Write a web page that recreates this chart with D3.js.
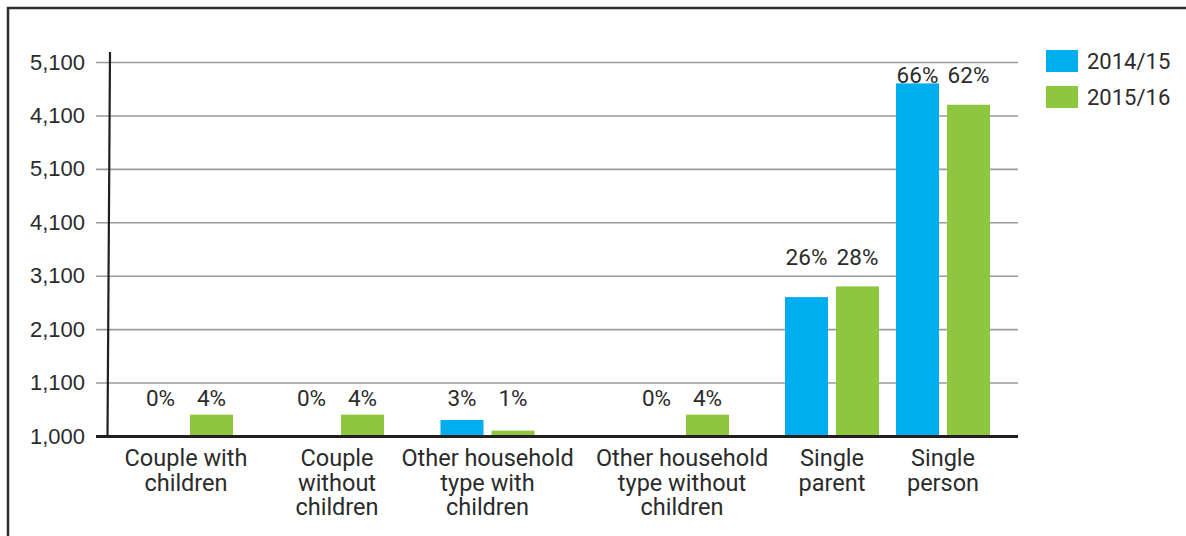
<!DOCTYPE html>
<html>
<head>
<meta charset="utf-8">
<script src="https://cdn.jsdelivr.net/npm/d3@7"></script>
<style>
  html, body { margin: 0; padding: 0; background: #fff; }
  svg { display: block; font-family: Roboto, "Open Sans", sans-serif; }
</style>
</head>
<body>
<svg id="chart" width="1186" height="536"></svg>
<script>
// Household types (x axis) and their wrapped label lines
const categories = [
  "Couple with children",
  "Couple without children",
  "Other household type with children",
  "Other household type without children",
  "Single parent",
  "Single person"
];
const categoryLines = [
  ["Couple with", "children"],
  ["Couple", "without", "children"],
  ["Other household", "type with", "children"],
  ["Other household", "type without", "children"],
  ["Single", "parent"],
  ["Single", "person"]
];

// Series: share of applications per year (%)
const series = ["2014/15", "2015/16"];
const values201415 = [0, 0, 3, 0, 26, 66];
const values201516 = [4, 4, 1, 4, 28, 62];

// Y axis ticks and their printed labels
const yTickValues = [0, 10, 20, 30, 40, 50, 60, 70];
const yTickLabels = ["1,000", "1,100", "2,100", "3,100", "4,100", "5,100", "4,100", "5,100"];

const colors = { "2014/15": "#00aeef", "2015/16": "#8dc63f" };

const svg = d3.select("#chart");
const textColor = "#2b2b2b";

// Frame around the figure
svg.append("path")
  .attr("d", "M8,540 L8,8 L1190,8")
  .attr("fill", "none")
  .attr("stroke", "#2f2f2f")
  .attr("stroke-width", 2.5);

// Scales
const y = d3.scaleLinear().domain([0, 70]).range([436, 62]);
const x0 = d3.scaleOrdinal()
  .domain(categories)
  .range([186, 337, 487.5, 682, 832, 943]);
const x1 = d3.scaleBand().domain(series).range([-47, 47]).paddingInner(8 / 51);

const gridLeft = 96, gridRight = 1018;

// Gridlines with tick labels
const yAxis = d3.axisLeft(y)
  .tickValues(yTickValues)
  .tickSize(-(gridRight - gridLeft))
  .tickPadding(12)
  .tickFormat((d, i) => yTickLabels[i]);

const gAxis = svg.append("g")
  .attr("transform", `translate(${gridLeft},0)`)
  .call(yAxis);
gAxis.select(".domain").remove();
gAxis.selectAll(".tick line")
  .attr("stroke", "#9a9a9a")
  .attr("stroke-width", 1.6);
gAxis.selectAll(".tick text")
  .attr("fill", textColor)
  .attr("font-size", 22)
  .attr("x", -11);

// Vertical axis line
svg.append("line")
  .attr("x1", 110).attr("y1", 52)
  .attr("x2", 107.5).attr("y2", y(0))
  .attr("stroke", "#231f20")
  .attr("stroke-width", 2.2);

// Bars
const groups = svg.append("g").selectAll("g")
  .data(categories)
  .join("g")
  .attr("transform", d => `translate(${x0(d)},0)`);

const rows = categories.map((c, i) => [
  { key: "2014/15", value: values201415[i] },
  { key: "2015/16", value: values201516[i] }
]);

groups.selectAll("rect")
  .data((d, i) => rows[i])
  .join("rect")
  .attr("x", d => x1(d.key))
  .attr("width", x1.bandwidth())
  .attr("y", d => y(d.value))
  .attr("height", d => y(0) - y(d.value))
  .attr("fill", d => colors[d.key]);

// Percentage labels above each pair of bars, kept inside the plot
groups.each(function (d, i) {
  const g = d3.select(this);
  const top = d3.max(rows[i], r => r.value);
  const raised = top > 20 ? 21 : 8;
  const baseline = Math.min(Math.max(y(top) - raised, y(70) + 21), y(0) - 30);
  g.selectAll("text.pct")
    .data(rows[i])
    .join("text")
    .attr("class", "pct")
    .attr("x", r => x1(r.key) + x1.bandwidth() / 2)
    .attr("y", baseline)
    .attr("text-anchor", "middle")
    .attr("font-size", 22.5)
    .attr("fill", textColor)
    .text(r => r.value + "%");
});

// Baseline
svg.append("line")
  .attr("x1", gridLeft).attr("x2", gridRight)
  .attr("y1", y(0) + 0.5).attr("y2", y(0) + 0.5)
  .attr("stroke", "#231f20")
  .attr("stroke-width", 3);

// Category labels
groups.append("text")
  .attr("text-anchor", "middle")
  .attr("font-size", 23.5)
  .attr("fill", textColor)
  .selectAll("tspan")
  .data((d, i) => categoryLines[i])
  .join("tspan")
  .attr("x", 0)
  .attr("y", (t, j) => 466 + j * 24.5)
  .text(t => t);

// Legend
const legend = svg.append("g").selectAll("g")
  .data(series)
  .join("g")
  .attr("transform", (d, i) => `translate(1046,${50 + i * 36})`);
legend.append("rect")
  .attr("width", 32).attr("height", 22)
  .attr("fill", d => colors[d]);
legend.append("text")
  .attr("x", 41).attr("y", 18.5)
  .attr("font-size", 22)
  .attr("fill", textColor)
  .text(d => d);
</script>
</body>
</html>
